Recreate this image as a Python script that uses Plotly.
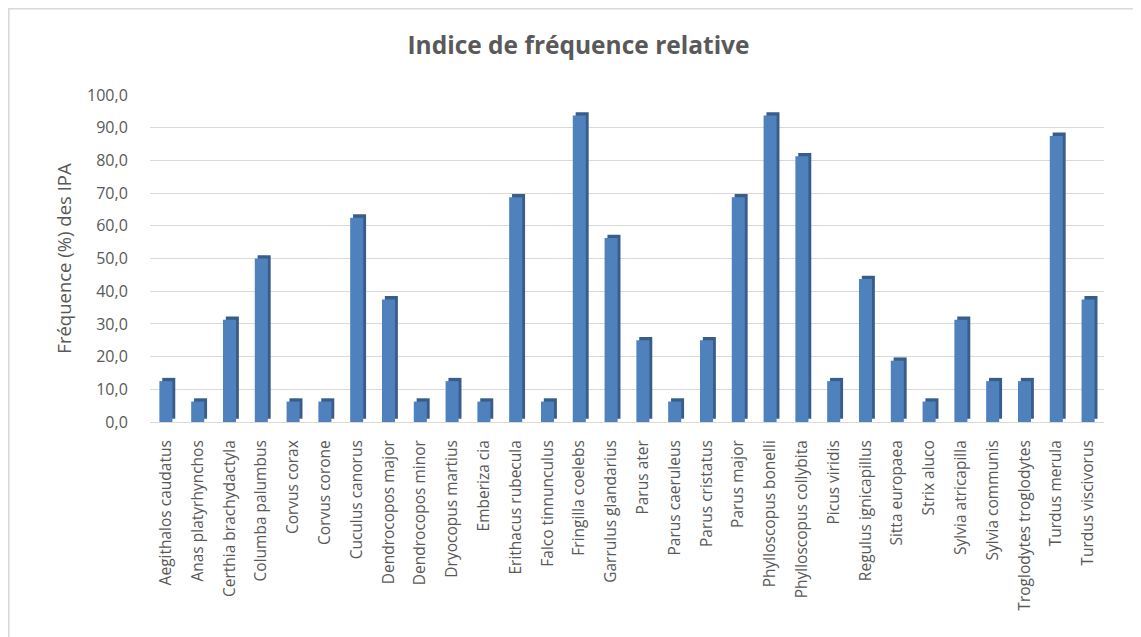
import plotly.graph_objects as go

species = [
    "Aegithalos caudatus", "Anas platyrhynchos", "Certhia brachydactyla", "Columba palumbus",
    "Corvus corax", "Corvus corone", "Cuculus canorus", "Dendrocopos major", "Dendrocopos minor",
    "Dryocopus martius", "Emberiza cia", "Erithacus rubecula", "Falco tinnunculus",
    "Fringilla coelebs", "Garrulus glandarius", "Parus ater", "Parus caeruleus",
    "Parus cristatus", "Parus major", "Phylloscopus bonelli", "Phylloscopus collybita",
    "Picus viridis", "Regulus ignicapillus", "Sitta europaea", "Strix aluco",
    "Sylvia atricapilla", "Sylvia communis", "Troglodytes troglodytes", "Turdus merula",
    "Turdus viscivorus",
]
frequence = [
    12.5, 6.25, 31.25, 50.0, 6.25, 6.25, 62.5, 37.5, 6.25, 12.5, 6.25, 68.75, 6.25,
    93.75, 56.25, 25.0, 6.25, 25.0, 68.75, 93.75, 81.25, 12.5, 43.75, 18.75, 6.25,
    31.25, 12.5, 12.5, 87.5, 37.5,
]
y_ticks = [0, 10, 20, 30, 40, 50, 60, 70, 80, 90, 100]
y_ticktext = ["0,0", "10,0", "20,0", "30,0", "40,0", "50,0", "60,0", "70,0", "80,0", "90,0", "100,0"]

FONT = "Open Sans"
GREY = "#595959"
W, H = 1141, 637
ML, MR, MT, MB = 142, 45, 87, 223
PW = W - ML - MR
PH = H - MT - MB

fig = go.Figure()
# side/shadow of the 3D bars
fig.add_trace(go.Bar(
    x=species, y=frequence, base=[1.0] * len(frequence),
    width=0.41, offset=-0.205 + 0.09,
    marker=dict(color="#385D8A", line=dict(width=0)),
    hoverinfo="skip", showlegend=False,
))
# front face
fig.add_trace(go.Bar(
    x=species, y=frequence,
    width=0.41, offset=-0.205,
    marker=dict(color="#4F81BD", line=dict(width=0)),
    showlegend=False,
))

fig.update_layout(
    width=W, height=H,
    margin=dict(l=ML, r=MR, t=MT, b=MB, autoexpand=False),
    barmode="overlay",
    paper_bgcolor="white", plot_bgcolor="white",
    font=dict(family=FONT, color=GREY, size=15),
    title=dict(text="<b>Indice de fréquence relative</b>", x=0.5, xref="container",
               xanchor="center", y=1 - 37 / H, yanchor="middle",
               font=dict(family=FONT, size=24.5, color=GREY)),
    xaxis=dict(
        tickangle=-90, showgrid=False, showline=False, zeroline=False,
        ticks="outside", ticklen=11, tickcolor="rgba(0,0,0,0)",
        tickfont=dict(family=FONT, size=15.5, color=GREY),
        range=[-0.5, len(species) - 0.5],
    ),
    yaxis=dict(
        range=[0, 100], tickvals=y_ticks, ticktext=y_ticktext,
        showgrid=True, gridcolor="#D9D9D9", gridwidth=1.3,
        zeroline=True, zerolinecolor="#D9D9D9", zerolinewidth=1.3,
        showline=False, ticks="outside", ticklen=18, tickcolor="rgba(0,0,0,0)",
        tickfont=dict(family=FONT, size=16, color=GREY),
        title=dict(text="Fréquence (%) des IPA", standoff=10,
                   font=dict(family=FONT, size=18.5, color=GREY)),
    ),
    shapes=[
        dict(type="rect", xref="paper", yref="paper", layer="above",
             x0=(0.8 - ML) / PW, x1=(W + 20 - ML) / PW,
             y0=-(H + 20 - MT - PH) / PH, y1=1 + (MT - 0.8) / PH,
             line=dict(color="#D9D9D9", width=1.6)),
    ],
)

fig.write_html("out.html")
